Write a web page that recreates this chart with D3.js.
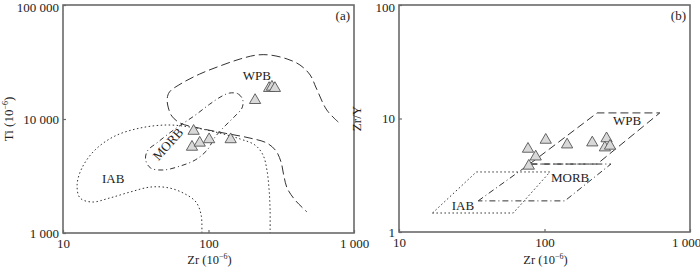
<!DOCTYPE html>
<html>
<head>
<meta charset="utf-8">
<script src="https://cdn.jsdelivr.net/npm/d3@7"></script>
<style>
  body { margin: 0; background: #fff; }
  svg { display: block; font-family: "Liberation Serif", "DejaVu Serif", serif; }
</style>
</head>
<body>
<script>
// Panel (a): Ti vs Zr field curves, [Zr, Ti]
const wpbCurveA = [[780, 9400], [650, 12000], [550, 18700], [500, 24300], [425, 29800], [347, 33600],
  [265, 36400], [215, 36400], [165, 33600], [120, 29200], [87, 24800], [66, 20700], [54, 17300],
  [52, 15000], [53, 12500], [56, 10600], [64, 9200], [87, 8300], [130, 7500], [193, 6800],
  [252, 6150], [291, 5250], [315, 4200], [330, 3150], [347, 2480], [393, 1950], [475, 1530]];
const morbCurveA = [[140, 16900], [160, 16600], [172, 14700], [170, 12500], [152, 10600], [130, 8700],
  [111, 6950], [98, 5350], [81, 4370], [64, 3870], [49, 3570], [40, 3720], [37, 4370], [38, 5240],
  [45, 6280], [54, 7540], [66, 9040], [81, 10800], [102, 13500], [124, 15900]];
const iabCurveA = [[90, 1000], [89, 1440], [82, 1870], [69, 2200], [54, 2480], [40, 2530], [29, 2290],
  [21, 2030], [15.8, 1870], [13.1, 2030], [12.5, 2640], [13.5, 3720], [16.6, 5350], [22.8, 7100],
  [34, 8340], [52, 8860], [75, 8500], [111, 7700], [165, 6680], [209, 5900], [237, 4830],
  [252, 3570], [261, 2380], [265, 1590], [265, 1000]];
const samplesA = [[77, 5800], [79, 8000], [87, 6300], [101, 6750], [142, 6750], [209, 14900],
  [261, 19000], [273, 19500], [286, 19000]];

// Panel (b): Zr/Y vs Zr field boxes, [Zr, Zr/Y]
const iabBoxB = [[17, 1.47], [34, 3.38], [109, 3.38], [61, 1.47]];
const morbBoxB = [[35, 1.88], [79, 3.97], [286, 3.97], [138, 1.88]];
const wpbBoxB = [[79, 3.97], [230, 11.2], [620, 11.2], [230, 3.97]];
const samplesB = [[102, 6.6], [77, 5.5], [87, 4.7], [78, 3.9], [143, 6.0], [213, 6.25],
  [267, 6.8], [260, 5.65], [282, 5.85]];

const xTicks = [10, 100, 1000];
const yTicksA = [1000, 10000, 100000];
const yTicksB = [1, 10, 100];
const labelsA = [{ t: 'WPB', p: [215, 23400], r: 0 }, { t: 'MORB', p: [53.5, 5910], r: -48 }, { t: 'IAB', p: [22.1, 2920], r: 0 }];
const labelsB = [{ t: 'WPB', p: [369, 9.31], r: 0 }, { t: 'MORB', p: [150, 2.93], r: 0 }, { t: 'IAB', p: [27.5, 1.66], r: 0 }];

const width = 700, height = 267;
const axisColor = '#6a6a6a', lineColor = '#333';
const fmt = d => d3.format(',')(d).replace(/,/g, ' ');

const svg = d3.select('body').append('svg')
  .attr('width', width)
  .attr('height', height);

function drawPanel(o) {
  const x = d3.scaleLog().domain([10, 1000]).range([o.left, o.right]);
  const y = d3.scaleLog().domain(o.yDomain).range([o.bottom, o.top]);
  const g = svg.append('g');

  // fields
  o.fields.forEach(f => {
    const line = d3.line().x(d => x(d[0])).y(d => y(d[1])).curve(f.curve);
    g.append('path')
      .attr('d', line(f.data))
      .attr('fill', 'none')
      .attr('stroke', lineColor)
      .attr('stroke-width', 1)
      .attr('stroke-dasharray', f.dash);
  });

  // field labels
  o.labels.forEach(l => {
    g.append('text')
      .attr('transform', `translate(${x(l.p[0])},${y(l.p[1])}) rotate(${l.r})`)
      .attr('text-anchor', 'middle')
      .attr('dominant-baseline', 'middle')
      .style('font-size', '13px')
      .attr('fill', '#222')
      .text(l.t);
  });

  // samples
  g.selectAll('path.pt')
    .data(o.samples)
    .enter()
    .append('path')
    .attr('class', 'pt')
    .attr('transform', d => `translate(${x(d[0])},${y(d[1]) + 1})`)
    .attr('d', d3.symbol(d3.symbolTriangle, 55))
    .attr('fill', '#d9d9d9')
    .attr('stroke', '#555')
    .attr('stroke-width', 0.9);

  // frame
  g.append('rect')
    .attr('x', o.left).attr('y', o.top)
    .attr('width', o.right - o.left).attr('height', o.bottom - o.top)
    .attr('fill', 'none')
    .attr('stroke', axisColor)
    .attr('stroke-width', 1.6);

  // axes
  const ax = g.append('g')
    .attr('transform', `translate(0,${o.bottom})`)
    .call(d3.axisBottom(x).tickValues(xTicks).tickFormat(fmt).tickSizeInner(-3).tickSizeOuter(0).tickPadding(6));
  const ay = g.append('g')
    .attr('transform', `translate(${o.left},0)`)
    .call(d3.axisLeft(y).tickValues(o.yTicks).tickFormat(fmt).tickSizeInner(-3).tickSizeOuter(0).tickPadding(4));
  [ax, ay].forEach(a => {
    a.select('.domain').remove();
    a.selectAll('line').attr('stroke', axisColor).attr('stroke-width', 1.2);
    a.selectAll('text').style('font-size', '13px').style('font-family', '"Liberation Serif", serif').attr('fill', '#222');
  });
  ay.selectAll('text').filter(d => d === o.yDomain[1]).attr('dy', '0.5em');
  if (o.lastXShift) ax.selectAll('text').filter(d => d === 1000).attr('dx', o.lastXShift);

  // x title
  const xt = g.append('text')
    .attr('x', (o.left + o.right) / 2 + 1)
    .attr('y', 264)
    .attr('text-anchor', 'middle')
    .style('font-size', '12.5px')
    .attr('fill', '#222');
  xt.append('tspan').text('Zr  (10');
  xt.append('tspan').attr('dy', -5).style('font-size', '8px').text('\u22126');
  xt.append('tspan').attr('dy', 5).text(')');

  // y title
  const yt = g.append('text')
    .attr('transform', `translate(${o.yTitleX},${(o.top + o.bottom) / 2}) rotate(-90)`)
    .attr('text-anchor', 'middle')
    .style('font-size', '13px')
    .attr('fill', '#222');
  if (o.yTitleSup) {
    yt.append('tspan').text(o.yTitle + ' (10');
    yt.append('tspan').attr('dy', -5).style('font-size', '8px').text('\u22126');
    yt.append('tspan').attr('dy', 5).text(')');
  } else {
    yt.text(o.yTitle);
  }

  // panel tag
  g.append('text')
    .attr('x', o.right - 4)
    .attr('y', o.top + 15)
    .attr('text-anchor', 'end')
    .style('font-size', '13px')
    .attr('fill', '#222')
    .text(o.tag);
}

drawPanel({
  left: 63, right: 354, top: 5, bottom: 233,
  yDomain: [1000, 100000], yTicks: yTicksA,
  yTitle: 'Ti', yTitleSup: true, yTitleX: 13,
  tag: '(a)',
  samples: samplesA,
  labels: labelsA,
  fields: [
    { data: wpbCurveA, curve: d3.curveCatmullRom, dash: '9,4' },
    { data: morbCurveA, curve: d3.curveCatmullRomClosed, dash: '5,3,1,3' },
    { data: iabCurveA, curve: d3.curveCatmullRom, dash: '1.5,2.5' }
  ]
});

drawPanel({
  left: 399, right: 690, top: 5, bottom: 232,
  yDomain: [1, 100], yTicks: yTicksB,
  yTitle: 'Zr/Y', yTitleSup: false, yTitleX: 361,
  tag: '(b)', lastXShift: -4,
  samples: samplesB,
  labels: labelsB,
  fields: [
    { data: wpbBoxB, curve: d3.curveLinearClosed, dash: '8,4' },
    { data: morbBoxB, curve: d3.curveLinearClosed, dash: '6,3,1,3' },
    { data: iabBoxB, curve: d3.curveLinearClosed, dash: '1.5,2.5' }
  ]
});
</script>
</body>
</html>
